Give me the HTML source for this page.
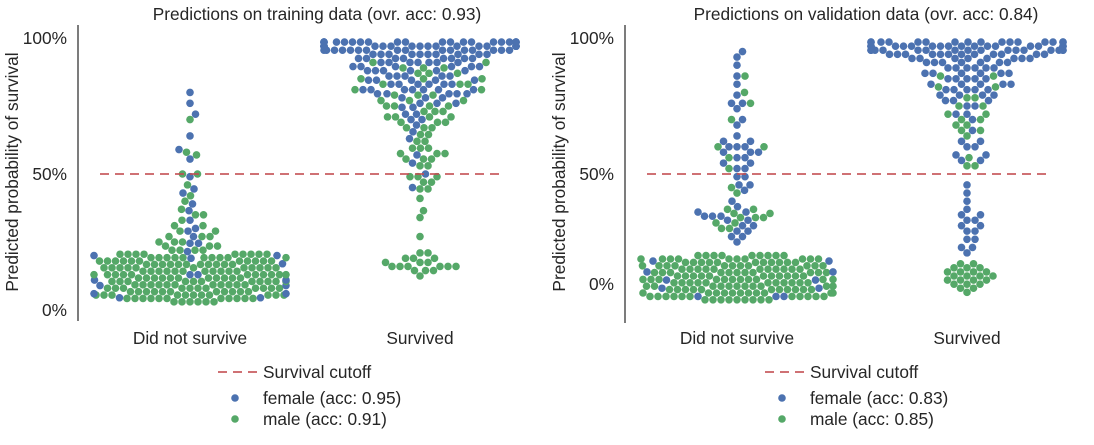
<!DOCTYPE html>
<html><head><meta charset="utf-8">
<style>
body{margin:0;background:#fff;}
svg text{font-family:"Liberation Sans",sans-serif;fill:#262626;}
</style></head>
<body>
<svg id="chart" width="1094" height="440"></svg>
<script>
// ---- data: [predicted probability, number of passengers] ----
const categories = ["Did not survive", "Survived"];
const yTickLabels = ["100%", "50%", "0%"];
const yTickValuesTrain = [1.0, 0.5, 0.0];
const yTickValuesVal = [1.0, 0.5, 0.0956];
const titles = ["Predictions on training data (ovr. acc: 0.93)", "Predictions on validation data (ovr. acc: 0.84)"];
const legendTrain = ["Survival cutoff", "female (acc: 0.95)", "male (acc: 0.91)"];
const legendVal = ["Survival cutoff", "female (acc: 0.83)", "male (acc: 0.85)"];
const cutoff = 0.5;

const bandTrainM = [[0.205,9],[0.1925,10],[0.18,11],[0.1675,11],[0.155,11],[0.1425,11],[0.13,11],[0.1175,11],[0.105,11],[0.0925,11],[0.08,11],[0.0675,11],[0.055,11],[0.0425,11],[0.03,6]];
const tDiedF = [[0.80,1],[0.76,1],[0.72,1],[0.64,1],[0.59,1],[0.555,1],[0.49,1],[0.445,1],[0.43,1],[0.39,1],[0.365,1],[0.33,1],[0.30,1],[0.29,1],[0.27,1],[0.245,2],[0.215,1],[0.20,2],[0.19,1],[0.17,1],[0.13,2],[0.11,2],[0.09,2],[0.06,2],[0.045,2]];
const tDiedM = [[0.70,1],[0.58,1],[0.57,1],[0.50,2],[0.46,1],[0.42,1],[0.40,1],[0.37,1],[0.35,2],[0.33,1],[0.31,2],[0.29,2],[0.27,3],[0.25,3],[0.235,3],[0.22,4]].concat(bandTrainM);
const tSurvF = [[0.985,22],[0.97,22],[0.955,16],[0.94,10],[0.925,8],[0.91,7],[0.895,6],[0.88,6],[0.86,5],[0.845,5],[0.83,6],[0.81,7],[0.795,5],[0.78,3],[0.76,3],[0.745,2],[0.72,2],[0.70,2],[0.68,1],[0.655,1],[0.63,1],[0.57,1],[0.54,1],[0.50,1],[0.45,1]];
const tSurvM = [[0.91,2],[0.89,3],[0.87,3],[0.85,3],[0.83,3],[0.81,2],[0.79,3],[0.77,3],[0.75,4],[0.73,3],[0.71,4],[0.69,3],[0.67,3],[0.645,2],[0.62,2],[0.595,3],[0.575,3],[0.555,3],[0.53,2],[0.49,3],[0.47,2],[0.445,2],[0.41,1],[0.365,1],[0.34,1],[0.27,1],[0.21,2],[0.19,3],[0.175,3],[0.16,6],[0.145,3],[0.125,1]];

const bandValM = [[0.20,9],[0.1875,10],[0.175,11],[0.1625,11],[0.15,11],[0.1375,11],[0.125,11],[0.1125,11],[0.10,11],[0.0875,11],[0.075,11],[0.0625,11],[0.05,11],[0.0375,9]];
const vDiedF = [[0.95,1],[0.93,1],[0.90,1],[0.86,1],[0.83,1],[0.79,1],[0.76,2],[0.74,1],[0.70,1],[0.68,1],[0.64,1],[0.62,2],[0.60,3],[0.58,3],[0.56,2],[0.54,2],[0.52,2],[0.49,2],[0.46,2],[0.44,1],[0.40,1],[0.38,1],[0.36,2],[0.345,3],[0.33,2],[0.31,2],[0.29,2],[0.27,2],[0.25,1],[0.18,2],[0.14,2],[0.11,2],[0.08,2],[0.05,3]];
const vDiedM = [[0.86,1],[0.80,1],[0.76,1],[0.70,1],[0.60,2],[0.56,1],[0.52,1],[0.45,1],[0.43,1],[0.37,2],[0.355,2],[0.34,3],[0.32,2],[0.30,2]].concat(bandValM);
const vSurvF = [[0.985,16],[0.97,18],[0.955,16],[0.94,12],[0.925,8],[0.91,7],[0.89,6],[0.87,6],[0.85,5],[0.83,5],[0.81,5],[0.79,4],[0.77,3],[0.75,2],[0.72,2],[0.70,1],[0.66,1],[0.62,2],[0.60,2],[0.57,2],[0.55,2],[0.46,1],[0.43,1],[0.40,1],[0.37,1],[0.35,2],[0.33,2],[0.31,2],[0.29,2],[0.26,2],[0.23,2],[0.21,1]];
const vSurvM = [[0.86,2],[0.82,2],[0.78,2],[0.75,2],[0.72,2],[0.70,2],[0.68,2],[0.66,2],[0.64,1],[0.56,1],[0.53,2],[0.17,2],[0.155,3],[0.14,4],[0.125,4],[0.11,4],[0.095,3],[0.08,2],[0.065,1]];

const BLUE = "#4c72b0", GREEN = "#55a868", RED = "#c44e52";
const svg = document.getElementById("chart");
const NS = "http://www.w3.org/2000/svg";
function mk(tag, attrs, parent){ const e=document.createElementNS(NS,tag); for(const k in attrs) e.setAttribute(k,attrs[k]); (parent||svg).appendChild(e); return e; }

const panels = [
  {x0:78, catX:[190,420], ticks:yTickValuesTrain, title:titles[0], titleX:317, legend:legendTrain, groups:[[tDiedF,tDiedM],[tSurvF,tSurvM]], lineX:[100,505], axisY:[25,321], lx:218, key:"train"},
  {x0:625, catX:[737,967], ticks:yTickValuesVal, title:titles[1], titleX:866, legend:legendVal, groups:[[vDiedF,vDiedM],[vSurvF,vSurvM]], lineX:[647,1052], axisY:[25,323], lx:765, key:"val"}
];
function yScale(v){ return 310 - v*272; }
const R = 3.8, D = 7.6, HALF = 96, FS = 17.3;

panels.forEach((p, pi) => {
  const g = mk("g", {});
  
  
  const t = mk("text", {x:p.titleX, y:20, "font-size":FS, "text-anchor":"middle"}, g);
  t.textContent = p.title;
  
  
  const ax = mk("line", {x1:p.x0, x2:p.x0, y1:p.axisY[0], y2:p.axisY[1], stroke:"#262626", "stroke-width":1.2}, g);
  
  
  p.ticks.forEach((tv, i) => {
    const tt = mk("text", {x:p.x0-11, y:yScale(tv)+6, "font-size":FS, "text-anchor":"end"}, g);
    tt.textContent = yTickLabels[i];
    
    
  });
  const yl = mk("text", {x:0, y:0, "font-size":FS, "text-anchor":"middle", transform:`translate(${p.x0-60},${172}) rotate(-90)`}, g);
  yl.textContent = "Predicted probability of survival";
  
  
  categories.forEach((c, i) => {
    const ct = mk("text", {x:p.catX[i], y:344, "font-size":FS, "text-anchor":"middle"}, g);
    ct.textContent = c;
    
    
  });
  p.groups.forEach((grp, ci) => {
    const pts = [];
    grp[0].forEach(([v,n]) => { for(let k=0;k<n;k++) pts.push({v, s:"f"}); });
    grp[1].forEach(([v,n]) => { for(let k=0;k<n;k++) pts.push({v, s:"m"}); });
    pts.sort((a,b)=>a.v-b.v);
    const placed = [];
    const cx = p.catX[ci];
    pts.forEach(pt => {
      const y = yScale(pt.v);
      let xo = null;
      for(let d=0; d<=HALF; d+=0.5){
        for(const sgn of [1,-1]){
          const x = cx + sgn*d;
          let ok = true;
          for(const q of placed){ const dx=q.x-x, dy=q.y-y; if(dx*dx+dy*dy < D*D*0.98){ ok=false; break; } }
          if(ok){ xo=x; break; }
        }
        if(xo!==null) break;
      }
      if(xo===null) xo = cx + (placed.length%2? HALF : -HALF);
      placed.push({x:xo, y});
      const c = mk("circle", {cx:xo, cy:y, r:R, fill: pt.s==="f"?BLUE:GREEN}, g);
      
      
    });
  });
  const cl = mk("line", {x1:p.lineX[0], x2:p.lineX[1], y1:yScale(cutoff), y2:yScale(cutoff), stroke:RED, "stroke-width":2, "stroke-dasharray":"9,6", opacity:0.8}, g);
  
  
  const lg = mk("g", {}, g);
  
  
  const ll = mk("line", {x1:p.lx, x2:p.lx+40, y1:372, y2:372, stroke:RED, "stroke-width":2, "stroke-dasharray":"9,6", opacity:0.8}, lg);
  
  
  [[372,null],[398,BLUE],[419,GREEN]].forEach(([y,col],i)=>{
    if(col){ const d = mk("circle",{cx:p.lx+17,cy:y,r:R,fill:col},lg);
      
       }
    const lt = mk("text",{x:p.lx+45,y:y+6,"font-size":FS},lg);
    lt.textContent = p.legend[i];
    
    
  });
});
</script>
</body></html>
